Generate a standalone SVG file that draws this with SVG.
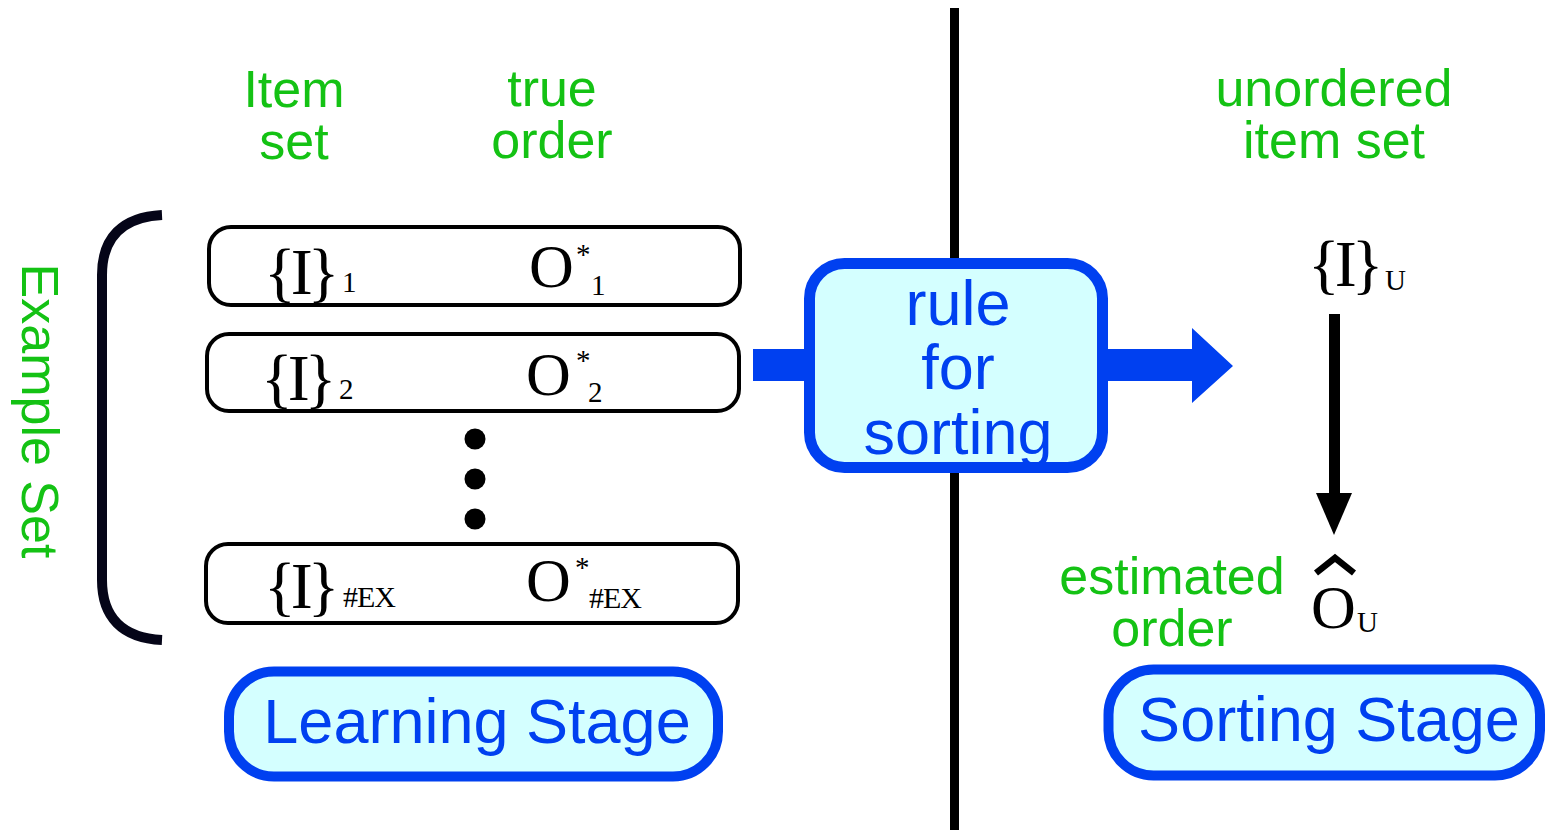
<svg xmlns="http://www.w3.org/2000/svg" width="1546" height="830" viewBox="0 0 1546 830">
  <style>
    .lbl { font-family: "Liberation Sans", Arial, sans-serif; font-size: 52px; fill: #14c214; text-anchor: middle; }
    .blue { font-family: "Liberation Sans", Arial, sans-serif; font-size: 63px; fill: #0040f0; text-anchor: middle; }
    .math { font-family: "Liberation Serif", "Times New Roman", serif; fill: #000; }
    .set { font-size: 66px; letter-spacing: -5px; }
    .big { font-size: 62px; }
    .sub { font-size: 29px; letter-spacing: 0; }
    .subx { font-size: 30px; letter-spacing: -1px; }
    .row { fill: #fff; stroke: #000; stroke-width: 4; }
    .stage { fill: #d4ffff; stroke: #0040f0; stroke-width: 10; }
  </style>

  <!-- divider between the two stages -->
  <g id="divider">
    <line x1="954.5" y1="8" x2="954.5" y2="830" stroke="#000" stroke-width="9"/>
  </g>

  <!-- column headings -->
  <g id="headings">
    <text class="lbl"><tspan x="294" y="107">Item</tspan><tspan x="294" y="159">set</tspan></text>
    <text class="lbl"><tspan x="552" y="106">true</tspan><tspan x="552" y="158">order</tspan></text>
    <text class="lbl"><tspan x="1334" y="106">unordered</tspan><tspan x="1334" y="158">item set</tspan></text>
  </g>

  <!-- example set bracket and label -->
  <g id="example-set">
    <path d="M162,215 C122,217 102,238 102,275 L102,580 C102,617 122,638 162,640" fill="none" stroke="#050518" stroke-width="10"/>
    <text class="lbl" transform="translate(22,411) rotate(90)" x="0" y="0">Example Set</text>
  </g>

  <!-- example rows: item set {I}_k and its true order O*_k -->
  <g id="example-1">
    <rect class="row" x="209" y="227" width="531" height="78" rx="22"/>
    <text class="math"><tspan class="set" x="264" y="294">{I}</tspan><tspan class="sub" x="342" y="292">1</tspan></text>
    <text class="math"><tspan class="big" x="529" y="287">O</tspan><tspan class="sub" x="576" y="264">*</tspan><tspan class="sub" x="591" y="295">1</tspan></text>
  </g>
  <g id="example-2">
    <rect class="row" x="207" y="334" width="532" height="77" rx="22"/>
    <text class="math"><tspan class="set" x="261" y="400">{I}</tspan><tspan class="sub" x="339" y="399">2</tspan></text>
    <text class="math"><tspan class="big" x="526" y="395">O</tspan><tspan class="sub" x="576" y="370">*</tspan><tspan class="sub" x="588" y="402">2</tspan></text>
  </g>
  <g id="ellipsis">
    <circle cx="475" cy="439" r="10.5" fill="#000"/>
    <circle cx="475" cy="479" r="10.5" fill="#000"/>
    <circle cx="475" cy="519" r="10.5" fill="#000"/>
  </g>
  <g id="example-n">
    <rect class="row" x="206" y="544" width="532" height="79" rx="22"/>
    <text class="math"><tspan class="set" x="264" y="608">{I}</tspan><tspan class="subx" x="343" y="607">#EX</tspan></text>
    <text class="math"><tspan class="big" x="526" y="601">O</tspan><tspan class="sub" x="575" y="577">*</tspan><tspan class="subx" x="589" y="608">#EX</tspan></text>
  </g>

  <!-- connectors -->
  <g id="connectors">
    <rect x="753" y="349" width="60" height="32" fill="#0040f0"/>
    <polygon points="1100,349 1192,349 1192,328 1233,366 1192,403 1192,381 1100,381" fill="#0040f0"/>
    <rect x="1329" y="314" width="11" height="182" fill="#000"/>
    <polygon points="1316,493 1352,493 1334,535" fill="#000"/>
  </g>

  <!-- learned sorting rule -->
  <g id="rule">
    <rect x="809.5" y="263.5" width="293" height="204" rx="35" fill="#d4ffff"/>
    <text class="blue"><tspan x="958" y="325">rule</tspan><tspan x="958" y="389">for</tspan><tspan x="958" y="454">sorting</tspan></text>
    <rect x="809.5" y="263.5" width="293" height="204" rx="35" fill="none" stroke="#0040f0" stroke-width="11"/>
  </g>

  <!-- unordered input -->
  <g id="unordered">
    <text class="math"><tspan class="set" x="1308" y="286">{I}</tspan><tspan class="sub" x="1385" y="290">U</tspan></text>
  </g>

  <!-- estimated output -->
  <g id="estimated">
    <text class="lbl"><tspan x="1172" y="594">estimated</tspan><tspan x="1172" y="646">order</tspan></text>
    <polyline points="1316,573 1335,558 1354,573" fill="none" stroke="#000" stroke-width="6.5"/>
    <text class="math"><tspan class="big" x="1311" y="628">O</tspan><tspan class="sub" x="1357" y="632">U</tspan></text>
  </g>

  <!-- stage labels -->
  <g id="learning-stage">
    <rect class="stage" x="229" y="671.5" width="489" height="105" rx="45"/>
    <text class="blue" x="477" y="743">Learning Stage</text>
  </g>
  <g id="sorting-stage">
    <rect class="stage" x="1108.5" y="669.5" width="431.5" height="106" rx="45"/>
    <text class="blue" x="1329" y="741">Sorting Stage</text>
  </g>
</svg>
